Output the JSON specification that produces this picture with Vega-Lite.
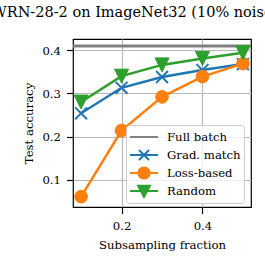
{
  "$schema": "https://vega.github.io/schema/vega-lite/v6.json",
  "width": 178,
  "height": 168,
  "autosize": "none",
  "padding": {"left": 73, "top": 39, "right": 14, "bottom": 58},
  "title": {"text": "WRN-28-2 on ImageNet32 (10% noise)", "font": "DejaVu Serif", "fontSize": 14.5, "fontWeight": "normal", "color": "black", "dx": -27, "offset": 19},
  "config": {
    "font": "DejaVu Serif",
    "view": {"stroke": "black", "strokeWidth": 1.2},
    "axis": {"labelFont": "DejaVu Serif", "labelFontSize": 11.7, "labelColor": "black", "titleFont": "DejaVu Serif", "titleFontSize": 11.7, "titleFontWeight": "normal", "titleColor": "black", "tickColor": "black", "tickSize": 6.5, "tickWidth": 1.2, "domain": false, "gridColor": "#b8b8b8", "gridWidth": 1.2, "labelPadding": 7, "titlePadding": 7},
    "axisY": {"labelPadding": 6, "titlePadding": 7}
  },
  "data": {"values": [
    {"series": "Grad. match", "frac": 0.1, "acc": 0.254},
    {"series": "Grad. match", "frac": 0.2, "acc": 0.313},
    {"series": "Grad. match", "frac": 0.3, "acc": 0.338},
    {"series": "Grad. match", "frac": 0.4, "acc": 0.354},
    {"series": "Grad. match", "frac": 0.5, "acc": 0.368},
    {"series": "Loss-based", "frac": 0.1, "acc": 0.061},
    {"series": "Loss-based", "frac": 0.2, "acc": 0.214},
    {"series": "Loss-based", "frac": 0.3, "acc": 0.292},
    {"series": "Loss-based", "frac": 0.4, "acc": 0.339},
    {"series": "Loss-based", "frac": 0.5, "acc": 0.369},
    {"series": "Random", "frac": 0.1, "acc": 0.280},
    {"series": "Random", "frac": 0.2, "acc": 0.340},
    {"series": "Random", "frac": 0.3, "acc": 0.366},
    {"series": "Random", "frac": 0.4, "acc": 0.381},
    {"series": "Random", "frac": 0.5, "acc": 0.394}
  ]},
  "layer": [
    {
      "data": {"values": [{"series": "Full batch", "acc": 0.41}]},
      "mark": {"type": "rule", "stroke": "#808080", "strokeWidth": 3},
      "encoding": {"y": {"field": "acc", "type": "quantitative", "scale": {"domain": [0.037, 0.426], "nice": false, "zero": false}, "axis": {"values": [0.1, 0.2, 0.3, 0.4], "format": ".1f", "title": "Test accuracy"}}}
    },
    {
      "mark": {"type": "line", "strokeWidth": 2.5},
      "encoding": {
        "x": {"field": "frac", "type": "quantitative", "scale": {"domain": [0.08, 0.52], "nice": false, "zero": false}, "axis": {"values": [0.2, 0.4], "format": ".1f", "title": "Subsampling fraction"}},
        "y": {"field": "acc", "type": "quantitative"},
        "color": {"field": "series", "type": "nominal", "scale": {"domain": ["Grad. match", "Loss-based", "Random"], "range": ["#1f77b4", "#ff7f0e", "#2ca02c"]}, "legend": null}
      }
    },
    {
      "transform": [{"filter": {"field": "series", "equal": "Grad. match"}}],
      "mark": {"type": "point", "shape": "M-0.85,-0.85L0.85,0.85M-0.85,0.85L0.85,-0.85", "size": 196, "filled": true, "fill": "#1f77b4", "stroke": "#1f77b4", "strokeWidth": 2, "opacity": 1},
      "encoding": {"x": {"field": "frac", "type": "quantitative"}, "y": {"field": "acc", "type": "quantitative"}}
    },
    {
      "transform": [{"filter": {"field": "series", "equal": "Loss-based"}}],
      "mark": {"type": "point", "shape": "M0.9,0A0.9,0.9 0 1,1 -0.9,0A0.9,0.9 0 1,1 0.9,0Z", "size": 196, "filled": true, "fill": "#ff7f0e", "stroke": "#ff7f0e", "strokeWidth": 1, "opacity": 1},
      "encoding": {"x": {"field": "frac", "type": "quantitative"}, "y": {"field": "acc", "type": "quantitative"}}
    },
    {
      "transform": [{"filter": {"field": "series", "equal": "Random"}}],
      "mark": {"type": "point", "shape": "M-1,-1L1,-1L0,1Z", "size": 196, "filled": true, "fill": "#2ca02c", "stroke": "#2ca02c", "strokeWidth": 1, "opacity": 1},
      "encoding": {"x": {"field": "frac", "type": "quantitative"}, "y": {"field": "acc", "type": "quantitative"}}
    },
    {
      "data": {"values": []},
      "mark": {"type": "point", "size": 784, "opacity": 1, "strokeWidth": 2, "filled": true},
      "encoding": {
        "fill": {"field": "series", "type": "nominal",
          "scale": {"domain": ["Full batch", "Grad. match", "Loss-based", "Random"], "range": ["#808080", "#1f77b4", "#ff7f0e", "#2ca02c"]},
          "legend": {"title": null, "orient": "none", "legendX": 53, "legendY": 86, "padding": 3, "fillColor": "rgba(255,255,255,0.8)", "strokeColor": "#cccccc", "cornerRadius": 3, "labelFont": "DejaVu Serif", "labelFontSize": 11.7, "labelColor": "black", "labelOffset": 8, "symbolSize": 784, "clipHeight": 18, "rowPadding": 0, "symbolStrokeWidth": 2}},
        "stroke": {"field": "series", "type": "nominal",
          "scale": {"domain": ["Full batch", "Grad. match", "Loss-based", "Random"], "range": ["#808080", "#1f77b4", "#ff7f0e", "#2ca02c"]},
          "legend": {"title": null, "orient": "none", "legendX": 53, "legendY": 86, "padding": 3, "fillColor": "rgba(255,255,255,0.8)", "strokeColor": "#cccccc", "cornerRadius": 3, "labelFont": "DejaVu Serif", "labelFontSize": 11.7, "labelColor": "black", "labelOffset": 8, "symbolSize": 784, "clipHeight": 18, "rowPadding": 0, "symbolStrokeWidth": 2}},
        "shape": {"field": "series", "type": "nominal",
          "scale": {"domain": ["Full batch", "Grad. match", "Loss-based", "Random"], "range": ["M-1,0L1,0", "M-1,0L1,0M-0.36,-0.36L0.36,0.36M-0.36,0.36L0.36,-0.36", "M-1,0L1,0M0.4,0A0.4,0.4 0 1,1 -0.4,0A0.4,0.4 0 1,1 0.4,0Z", "M-1,0L1,0M-0.42,-0.38L0.42,-0.38L0,0.42Z"]},
          "legend": {"title": null, "orient": "none", "legendX": 53, "legendY": 86, "padding": 3, "fillColor": "rgba(255,255,255,0.8)", "strokeColor": "#cccccc", "cornerRadius": 3, "labelFont": "DejaVu Serif", "labelFontSize": 11.7, "labelColor": "black", "labelOffset": 8, "symbolSize": 784, "clipHeight": 18, "rowPadding": 0, "symbolStrokeWidth": 2}}
      }
    }
  ]
}
